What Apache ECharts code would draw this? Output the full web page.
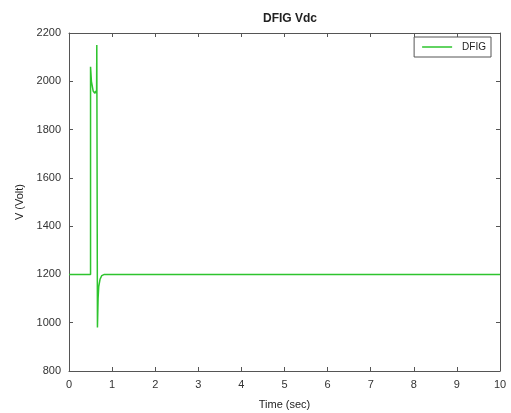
<!DOCTYPE html>
<html>
<head>
<meta charset="utf-8">
<script src="https://cdn.jsdelivr.net/npm/echarts@6/dist/echarts.min.js"></script>
<style>
html,body{margin:0;padding:0;background:#fff;}
#chart{width:511px;height:413px;}
</style>
</head>
<body>
<div id="chart"></div>
<script>
// DC-link voltage of the DFIG converter over the simulation run
const timeSec = [0, 0.5, 0.5, 0.52, 0.56, 0.6, 0.62, 0.64, 0.645, 0.66, 0.675, 0.69, 0.72, 0.76, 0.82, 1.0, 10];
const vdcVolt = [1200, 1200, 2060, 2000, 1960, 1950, 1960, 1950, 2150, 980, 1100, 1150, 1180, 1195, 1200, 1200, 1200];
const xTicks = [0, 1, 2, 3, 4, 5, 6, 7, 8, 9, 10];
const yTicks = [800, 1000, 1200, 1400, 1600, 1800, 2000, 2200];

const seriesData = timeSec.map((t, i) => [t, vdcVolt[i]]);
const font = 'Liberation Sans, Arial, sans-serif';

const axisBase = {
  axisLine: { show: true, onZero: false, lineStyle: { color: '#555', width: 1 } },
  axisTick: { show: true, inside: true, length: 4, lineStyle: { color: '#555' } },
  splitLine: { show: false }
};

const chart = echarts.init(document.getElementById('chart'));
chart.setOption({
  animation: false,
  backgroundColor: '#fff',
  title: {
    text: 'DFIG Vdc',
    left: 285, top: 8, textAlign: 'center',
    textStyle: { fontFamily: font, fontSize: 12, fontWeight: 'bold', color: '#222' }
  },
  legend: {
    right: 20, top: 37,
    data: ['DFIG'],
    icon: 'path://M0,0 L40,0 L40,2 L0,2 Z',
    itemWidth: 40, itemHeight: 1.5,
    itemGap: 4,
    padding: [5, 5, 5, 8],
    borderColor: '#555', borderWidth: 1,
    backgroundColor: '#fff',
    textStyle: { fontFamily: font, fontSize: 10, color: '#222' }
  },
  grid: { left: 69, right: 11, top: 33, bottom: 42, containLabel: false, outerBoundsMode: 'none' },
  xAxis: [
    Object.assign({}, axisBase, {
      type: 'value', min: 0, max: 10, interval: 1,
      name: 'Time (sec)', nameLocation: 'middle', nameGap: 28,
      nameTextStyle: { fontFamily: font, fontSize: 11, color: '#222' },
      axisLabel: { fontFamily: font, fontSize: 11, color: '#333', margin: 8,
        formatter: v => xTicks.includes(v) ? String(v) : '' }
    }),
    Object.assign({}, axisBase, {
      type: 'value', min: 0, max: 10, interval: 1, position: 'top',
      axisLabel: { show: false }
    })
  ],
  yAxis: [
    Object.assign({}, axisBase, {
      type: 'value', min: 800, max: 2200, interval: 200,
      name: 'V (Volt)', nameLocation: 'middle', nameGap: 42,
      nameTextStyle: { fontFamily: font, fontSize: 11, color: '#222' },
      axisLabel: { fontFamily: font, fontSize: 11, color: '#333', margin: 8,
        formatter: v => yTicks.includes(v) ? String(v) : '' }
    }),
    Object.assign({}, axisBase, {
      type: 'value', min: 800, max: 2200, interval: 200, position: 'right',
      axisLabel: { show: false }
    })
  ],
  series: [{
    name: 'DFIG',
    type: 'line',
    data: seriesData,
    showSymbol: false,
    symbol: 'none',
    lineStyle: { color: '#2ec42e', width: 1.5 },
    itemStyle: { color: '#2ec42e' }
  }]
});
</script>
</body>
</html>
